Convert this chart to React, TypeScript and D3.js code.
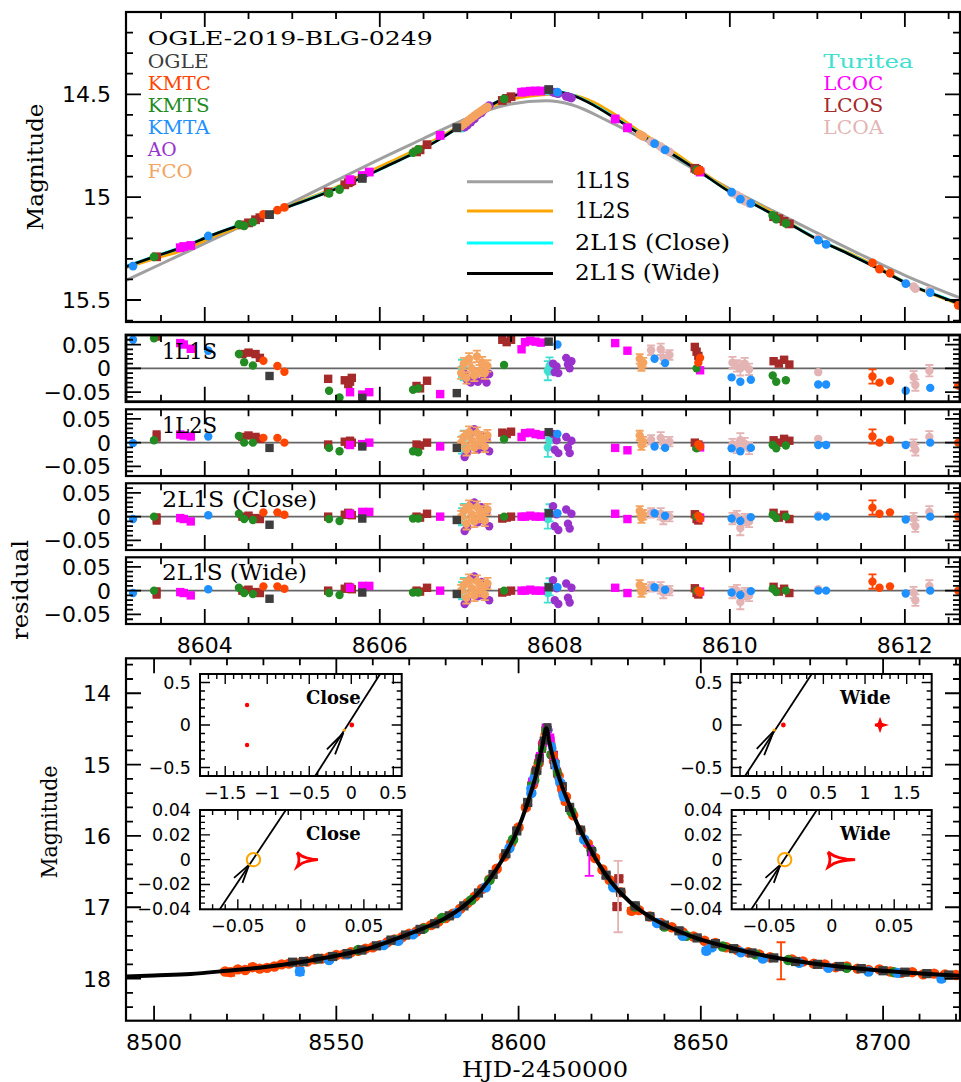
import React from "react";
import * as d3 from "d3";

// ---------------- tick labels ----------------
const topXTicks = [8604, 8606, 8608, 8610, 8612];
const topYTicks = [14.5, 15, 15.5];
const resYTicks = [-0.05, 0, 0.05];
const botXTicks = [8500, 8550, 8600, 8650, 8700];
const botYTicks = [14, 15, 16, 17, 18];
const insetCloseXTicks = [-1.5, -1, -0.5, 0, 0.5];
const insetWideXTicks = [-0.5, 0, 0.5, 1, 1.5];
const insetBigYTicks = [-0.5, 0, 0.5];
const insetSmallXTicks = [-0.05, 0, 0.05];
const insetSmallYTicks = [-0.04, -0.02, 0, 0.02, 0.04];

// ---------------- names ----------------
const eventName = "OGLE-2019-BLG-0249";
const leftLegend = ["OGLE", "KMTC", "KMTS", "KMTA", "AO", "FCO"];
const rightLegend = ["Turitea", "LCOC", "LCOS", "LCOA"];
const modelNames = ["1L1S", "1L2S", "2L1S (Close)", "2L1S (Wide)"];

// ---------------- model curves (top panel) [HJD', mag] ----------------
const model1L1S = [
  [8603.1, 15.405], [8603.5, 15.325], [8604.0, 15.225], [8604.5, 15.125], [8605.0, 15.025],
  [8605.5, 14.92], [8606.0, 14.815], [8606.5, 14.715], [8606.9, 14.635], [8607.2, 14.582],
  [8607.5, 14.547], [8607.9, 14.532], [8608.2, 14.552], [8608.6, 14.628], [8609.0, 14.715],
  [8609.5, 14.842], [8610.0, 14.96], [8610.5, 15.068], [8611.0, 15.175], [8611.5, 15.28],
  [8612.0, 15.38], [8612.63, 15.49],
];
const model1L2S = [
  [8603.1, 15.342], [8603.42, 15.3], [8603.8, 15.25], [8604.05, 15.2], [8604.45, 15.135],
  [8604.8, 15.072], [8605.1, 15.02], [8605.5, 14.952], [8605.8, 14.893], [8606.1, 14.832],
  [8606.4, 14.772], [8606.7, 14.705], [8606.9, 14.655], [8607.15, 14.588], [8607.35, 14.545],
  [8607.55, 14.52], [8607.8, 14.505], [8608.0, 14.5], [8608.2, 14.505], [8608.45, 14.54],
  [8608.7, 14.602], [8609.0, 14.69], [8609.3, 14.765], [8609.65, 14.868], [8610.0, 14.967],
  [8610.3, 15.031], [8610.6, 15.1], [8610.95, 15.195], [8611.35, 15.27], [8611.7, 15.342],
  [8612.05, 15.425], [8612.35, 15.477], [8612.63, 15.522],
];
const model2L1SClose = [
  [8603.1, 15.336], [8603.42, 15.289], [8603.8, 15.234], [8604.05, 15.19], [8604.45, 15.127],
  [8604.8, 15.07], [8605.1, 15.024], [8605.5, 14.958], [8605.8, 14.904], [8606.1, 14.845],
  [8606.4, 14.784], [8606.7, 14.714], [8606.9, 14.659], [8607.15, 14.584], [8607.35, 14.534],
  [8607.55, 14.504], [8607.8, 14.486], [8608.0, 14.486], [8608.2, 14.503], [8608.45, 14.553],
  [8608.7, 14.618], [8609.0, 14.699], [8609.3, 14.779], [8609.65, 14.874], [8610.0, 14.974],
  [8610.3, 15.039], [8610.6, 15.109], [8611.0, 15.204], [8611.35, 15.274], [8611.7, 15.347],
  [8612.05, 15.424], [8612.35, 15.474], [8612.63, 15.519],
];
const model2L1SWide = [
  [8603.1, 15.338], [8603.42, 15.29], [8603.8, 15.235], [8604.05, 15.19], [8604.45, 15.128],
  [8604.8, 15.07], [8605.1, 15.025], [8605.5, 14.96], [8605.8, 14.905], [8606.1, 14.845],
  [8606.4, 14.785], [8606.7, 14.715], [8606.9, 14.66], [8607.15, 14.585], [8607.35, 14.535],
  [8607.55, 14.505], [8607.8, 14.487], [8608.0, 14.487], [8608.2, 14.505], [8608.45, 14.555],
  [8608.7, 14.62], [8609.0, 14.7], [8609.3, 14.78], [8609.65, 14.875], [8610.0, 14.975],
  [8610.3, 15.04], [8610.6, 15.11], [8611.0, 15.205], [8611.35, 15.275], [8611.7, 15.348],
  [8612.05, 15.425], [8612.35, 15.475], [8612.63, 15.52],
];

// full-season model curve (bottom panel) [HJD', mag]
const modelFull = [
  [8492.3, 17.97], [8500, 17.955], [8510, 17.935], [8520, 17.89], [8530, 17.84], [8540, 17.77],
  [8550, 17.68], [8560, 17.56], [8567.6, 17.42], [8575, 17.27], [8580, 17.15], [8585, 16.98],
  [8590, 16.74], [8594, 16.46], [8597, 16.2], [8599, 16.0], [8601, 15.75], [8603, 15.45],
  [8604.5, 15.2], [8605.6, 14.95], [8606.6, 14.72], [8607.6, 14.49], [8608.6, 14.72],
  [8609.6, 14.93], [8610.6, 15.1], [8612.1, 15.33], [8613.6, 15.52], [8616.1, 15.83],
  [8618.6, 16.08], [8621.6, 16.36], [8625.6, 16.66], [8630.6, 16.93], [8635.6, 17.12],
  [8640.6, 17.26], [8647.6, 17.41], [8657.6, 17.56], [8667.6, 17.68], [8682.6, 17.8],
  [8697.6, 17.88], [8721.1, 17.96],
];

// ---------------- observations near peak ----------------
// [HJD', mag, res 1L1S, res 1L2S, res 2L1S close, res 2L1S wide, error]
const obsOGLE = [
  [8604.74, 15.085, -0.016, -0.011, -0.017, -0.017, 0.004],
  [8605.8, 14.909, -0.062, -0.008, -0.004, -0.004, 0.004],
  [8606.88, 14.663, -0.052, -0.011, -0.007, -0.007, 0.004],
  [8607.93, 14.477, 0.056, 0.022, 0.007, 0.007, 0.004],
];
const obsKMTC = [
  [8604.67, 15.084, 0.016, 0.01, 0.009, 0.009, 0.004],
  [8604.83, 15.063, 0.005, 0.01, 0.009, 0.009, 0.004],
  [8604.91, 15.05, -0.007, 0.0, 0.004, 0.004, 0.004],
  [8609.64, 14.874, 0.012, -0.004, 0.002, 0.0, 0.004],
  [8609.66, 14.87, 0.022, -0.008, -0.004, -0.004, 0.004],
  [8611.63, 15.32, -0.017, 0.013, 0.019, 0.019, 0.015],
  [8611.71, 15.35, -0.03, 0.0, 0.006, 0.006, 0.004],
  [8611.83, 15.37, -0.026, 0.006, 0.009, 0.009, 0.004],
  [8612.61, 15.526, -0.036, 0.0, 0.0, 0.0, 0.004],
];
const obsKMTS = [
  [8603.42, 15.29, 0.063, 0.005, 0.0, 0.0, 0.004],
  [8604.39, 15.133, 0.03, 0.014, 0.006, 0.006, 0.004],
  [8604.45, 15.14, 0.013, 0.0, -0.005, -0.005, 0.004],
  [8604.55, 15.121, 0.006, 0.0, -0.007, -0.007, 0.004],
  [8605.42, 14.982, -0.047, -0.011, -0.005, -0.005, 0.004],
  [8605.54, 14.963, -0.061, -0.018, -0.009, -0.009, 0.004],
  [8606.38, 14.784, -0.045, -0.018, -0.004, -0.004, 0.004],
  [8606.44, 14.768, -0.042, -0.02, -0.004, -0.004, 0.004],
  [8607.42, 14.522, 0.007, 0.007, 0.0, 0.0, 0.004],
  [8609.62, 14.868, 0.0, -0.012, 0.0, 0.0, 0.004],
  [8610.49, 15.089, -0.015, -0.005, 0.004, 0.004, 0.004],
  [8610.53, 15.107, -0.028, -0.012, -0.003, -0.003, 0.004],
  [8610.64, 15.128, -0.025, -0.006, 0.0, 0.0, 0.004],
];
const obsKMTA = [
  [8603.18, 15.335, 0.06, -0.001, -0.005, -0.005, 0.004],
  [8604.04, 15.189, 0.037, 0.013, 0.003, 0.003, 0.004],
  [8608.03, 14.49, 0.05, 0.018, 0.007, 0.007, 0.004],
  [8609.14, 14.74, 0.02, -0.008, 0.007, 0.007, 0.004],
  [8609.26, 14.77, 0.011, -0.011, 0.002, 0.002, 0.004],
  [8610.02, 14.976, -0.019, -0.012, -0.004, -0.004, 0.004],
  [8610.12, 15.01, -0.028, -0.018, -0.009, -0.009, 0.008],
  [8610.24, 15.03, -0.024, -0.011, -0.001, -0.001, 0.004],
  [8611.01, 15.209, -0.034, -0.005, 0.0, 0.0, 0.004],
  [8611.1, 15.23, -0.034, -0.005, 0.0, 0.0, 0.004],
  [8612.01, 15.42, -0.047, -0.005, -0.006, -0.006, 0.004],
  [8612.29, 15.464, -0.041, 0.0, 0.0, 0.0, 0.008],
];
const obsAO = [
  [8606.97, 14.66, -0.012, -0.03, -0.03, -0.028, 0.006],
  [8607.0, 14.65, -0.025, -0.02, -0.022, -0.02, 0.006],
  [8607.04, 14.635, -0.03, 0.02, 0.025, 0.025, 0.006],
  [8607.08, 14.62, -0.018, 0.028, 0.03, 0.03, 0.007],
  [8607.12, 14.6, -0.028, -0.015, -0.012, -0.012, 0.006],
  [8607.16, 14.59, -0.005, 0.015, 0.02, 0.018, 0.006],
  [8607.19, 14.575, -0.022, -0.01, -0.008, -0.01, 0.007],
  [8607.22, 14.565, -0.03, 0.008, 0.01, 0.01, 0.006],
  [8607.25, 14.555, -0.012, -0.018, -0.02, -0.02, 0.006],
  [8607.98, 14.49, 0.01, 0.018, 0.022, 0.022, 0.008],
  [8608.0, 14.492, -0.008, -0.015, -0.02, -0.02, 0.008],
  [8608.02, 14.495, 0.004, 0.005, 0.005, 0.005, 0.008],
  [8608.04, 14.497, -0.01, -0.022, -0.028, -0.028, 0.008],
  [8608.13, 14.51, 0.022, 0.012, 0.015, 0.015, 0.008],
  [8608.15, 14.512, 0.008, -0.01, -0.015, -0.015, 0.008],
  [8608.17, 14.515, 0.0, -0.022, -0.025, -0.025, 0.008],
  [8608.19, 14.518, 0.015, 0.004, 0.006, 0.006, 0.008],
];
const obsFCO = [
  [8606.93, 14.655, -0.01, 0.0, 0.0, 0.0, 0.012],
  [8606.96, 14.645, 0.01, 0.012, 0.012, 0.012, 0.012],
  [8606.99, 14.635, -0.02, -0.015, -0.015, -0.015, 0.012],
  [8607.02, 14.625, 0.02, 0.022, 0.022, 0.022, 0.012],
  [8607.05, 14.615, 0.0, 0.005, 0.005, 0.005, 0.012],
  [8607.08, 14.605, -0.015, -0.01, -0.01, -0.01, 0.012],
  [8607.11, 14.595, 0.025, 0.02, 0.02, 0.02, 0.012],
  [8607.14, 14.587, -0.005, 0.0, 0.0, 0.0, 0.012],
  [8607.17, 14.578, 0.012, 0.01, 0.01, 0.01, 0.012],
  [8607.2, 14.57, -0.01, -0.008, -0.008, -0.008, 0.012],
  [8607.23, 14.562, 0.005, 0.015, 0.015, 0.015, 0.012],
  [8608.97, 14.695, 0.02, 0.015, 0.012, 0.012, 0.01],
  [8608.99, 14.7, 0.005, -0.005, -0.003, -0.003, 0.01],
  [8609.01, 14.705, 0.012, 0.002, 0.004, 0.004, 0.01],
];
const obsTuritea = [
  [8606.94, 14.665, 0.0, -0.005, 0.0, 0.0, 0.018],
  [8606.96, 14.66, -0.01, 0.01, 0.012, 0.012, 0.015],
  [8607.92, 14.485, -0.005, -0.01, -0.005, -0.005, 0.02],
  [8607.94, 14.483, 0.005, 0.005, 0.008, 0.008, 0.018],
];
const obsLCOC = [
  [8603.72, 15.246, 0.053, 0.017, -0.003, -0.003, 0.005],
  [8603.76, 15.24, 0.05, 0.015, -0.005, -0.005, 0.005],
  [8603.84, 15.235, 0.041, 0.013, -0.01, -0.01, 0.005],
  [8605.66, 14.915, -0.05, -0.005, 0.006, 0.006, 0.005],
  [8605.8, 14.895, -0.055, -0.003, 0.01, 0.01, 0.005],
  [8605.88, 14.878, -0.05, 0.0, 0.01, 0.01, 0.005],
  [8606.69, 14.7, -0.054, -0.008, 0.0, 0.0, 0.005],
  [8607.62, 14.49, 0.04, 0.012, 0.0, 0.0, 0.004],
  [8607.66, 14.488, 0.055, 0.02, 0.0, 0.0, 0.004],
  [8607.72, 14.485, 0.058, 0.021, 0.002, 0.002, 0.004],
  [8607.78, 14.484, 0.056, 0.018, 0.0, 0.0, 0.004],
  [8607.84, 14.484, 0.054, 0.016, 0.0, 0.0, 0.004],
  [8608.69, 14.62, 0.053, -0.011, 0.006, 0.006, 0.004],
  [8608.83, 14.663, 0.037, -0.016, -0.005, -0.005, 0.004],
  [8609.66, 14.878, -0.004, -0.01, -0.002, -0.002, 0.004],
];
const obsLCOS = [
  [8603.45, 15.29, 0.07, 0.014, -0.005, -0.005, 0.01],
  [8604.43, 15.135, 0.03, 0.012, 0.0, 0.0, 0.005],
  [8604.5, 15.125, 0.033, 0.015, 0.002, 0.002, 0.005],
  [8604.58, 15.11, 0.03, 0.012, -0.003, -0.003, 0.005],
  [8604.63, 15.1, 0.022, 0.008, -0.005, -0.005, 0.005],
  [8605.41, 14.975, -0.022, -0.004, 0.0, 0.0, 0.005],
  [8605.6, 14.94, -0.025, 0.002, 0.004, 0.004, 0.006],
  [8605.64, 14.93, -0.033, -0.003, 0.008, 0.008, 0.006],
  [8605.66, 14.925, -0.028, 0.004, 0.006, 0.006, 0.006],
  [8605.68, 14.92, -0.02, 0.0, 0.003, 0.003, 0.006],
  [8606.42, 14.78, -0.037, -0.004, 0.0, 0.0, 0.005],
  [8606.46, 14.77, -0.042, -0.006, -0.002, -0.002, 0.005],
  [8606.54, 14.745, -0.026, 0.0, 0.006, 0.006, 0.005],
  [8607.4, 14.53, 0.06, 0.021, -0.004, -0.004, 0.005],
  [8607.45, 14.52, 0.055, 0.018, -0.002, -0.002, 0.005],
  [8607.5, 14.512, 0.06, 0.023, 0.0, 0.0, 0.005],
  [8609.6, 14.86, 0.045, 0.0, 0.005, 0.005, 0.006],
  [8609.62, 14.865, 0.035, -0.008, -0.005, -0.005, 0.006],
  [8609.64, 14.87, 0.026, -0.004, -0.008, -0.008, 0.006],
  [8610.5, 15.095, 0.015, 0.005, 0.008, 0.008, 0.006],
  [8610.56, 15.105, 0.01, 0.0, -0.002, -0.002, 0.006],
  [8610.62, 15.118, 0.018, 0.008, 0.004, 0.004, 0.006],
  [8610.68, 15.13, 0.008, 0.004, -0.005, -0.005, 0.006],
];
const obsLCOA = [
  [8609.1, 14.73, 0.038, 0.006, 0.008, 0.008, 0.01],
  [8609.21, 14.755, 0.04, 0.01, 0.006, 0.006, 0.012],
  [8609.24, 14.765, 0.022, 0.0, -0.004, -0.004, 0.012],
  [8609.31, 14.78, 0.028, 0.002, 0.0, 0.0, 0.01],
  [8610.03, 14.98, 0.012, -0.004, -0.004, -0.004, 0.012],
  [8610.08, 14.99, 0.005, -0.01, 0.0, 0.0, 0.012],
  [8610.12, 15.0, 0.0, 0.005, -0.024, -0.024, 0.015],
  [8610.17, 15.02, 0.01, -0.002, -0.006, -0.006, 0.012],
  [8610.22, 15.03, -0.002, -0.012, -0.01, -0.01, 0.012],
  [8611.01, 15.2, -0.008, 0.008, 0.003, 0.003, 0.008],
  [8612.1, 15.435, -0.018, -0.005, -0.004, -0.004, 0.012],
  [8612.12, 15.445, -0.035, -0.015, -0.02, -0.02, 0.012],
  [8612.28, 15.455, -0.005, 0.012, 0.01, 0.01, 0.012],
];

// ---------------- full-season observations (bottom panel) [HJD', mag, error] ----------------
const seasonKMTC = [
  [8519.5, 17.9, 0.03], [8521, 17.91, 0.05], [8523, 17.87, 0.03], [8525, 17.88, 0.03], [8527, 17.84, 0.04],
  [8529, 17.86, 0.03], [8531, 17.85, 0.03], [8533, 17.83, 0.03], [8535, 17.8, 0.03], [8537, 17.79, 0.04],
  [8540, 17.78, 0.03], [8542, 17.76, 0.03], [8544, 17.73, 0.03], [8546, 17.72, 0.03], [8548, 17.7, 0.03],
  [8550, 17.67, 0.03], [8552, 17.66, 0.03], [8554, 17.63, 0.03], [8556, 17.61, 0.03], [8558, 17.58, 0.03],
  [8560, 17.56, 0.03], [8562, 17.53, 0.03], [8564, 17.49, 0.03], [8566, 17.45, 0.03], [8568, 17.42, 0.03],
  [8570, 17.37, 0.03], [8572, 17.34, 0.03], [8574, 17.29, 0.03], [8576, 17.25, 0.03], [8578, 17.2, 0.03],
  [8580, 17.15, 0.03], [8582, 17.09, 0.03], [8584, 17.02, 0.03], [8586, 16.94, 0.03], [8588, 16.85, 0.03],
  [8590, 16.74, 0.03], [8592, 16.61, 0.03], [8594, 16.46, 0.03], [8596, 16.29, 0.03], [8598, 16.1, 0.03],
  [8600, 15.88, 0.03], [8602, 15.6, 0.03], [8604, 15.28, 0.02], [8605.5, 14.98, 0.02], [8606.7, 14.7, 0.02],
  [8609.7, 14.95, 0.02], [8611, 15.16, 0.02], [8613, 15.45, 0.02], [8615, 15.71, 0.02], [8617, 15.92, 0.02],
  [8619, 16.11, 0.03], [8621, 16.31, 0.03], [8623, 16.47, 0.03], [8625, 16.62, 0.03], [8628, 16.79, 0.03],
  [8631, 17.05, 0.04], [8633, 17.04, 0.03], [8636, 17.13, 0.03], [8639, 17.22, 0.03], [8642, 17.28, 0.03],
  [8645, 17.35, 0.03], [8648, 17.41, 0.03], [8651, 17.47, 0.03], [8654, 17.5, 0.03], [8657, 17.56, 0.03],
  [8660, 17.6, 0.03], [8663, 17.63, 0.03], [8666, 17.66, 0.03], [8669, 17.7, 0.03], [8672, 17.75, 0.26],
  [8675, 17.73, 0.03], [8678, 17.76, 0.03], [8681, 17.79, 0.03], [8684, 17.8, 0.03], [8687, 17.84, 0.03],
  [8690, 17.83, 0.04], [8693, 17.86, 0.03], [8696, 17.88, 0.03], [8699, 17.87, 0.03], [8702, 17.9, 0.03],
  [8705, 17.92, 0.04], [8708, 17.91, 0.03], [8711, 17.94, 0.03], [8714, 17.93, 0.03], [8717, 17.94, 0.03],
  [8720, 17.95, 0.03],
];
const seasonOGLE = [
  [8538, 17.77, 0.03], [8541, 17.76, 0.03], [8545, 17.72, 0.03], [8549, 17.69, 0.03], [8553, 17.65, 0.03],
  [8557, 17.6, 0.03], [8561, 17.54, 0.03], [8565, 17.46, 0.03], [8569, 17.39, 0.03], [8573, 17.31, 0.03],
  [8577, 17.23, 0.03], [8581, 17.12, 0.03], [8585, 16.98, 0.03], [8589, 16.8, 0.03], [8593, 16.54, 0.03],
  [8596.5, 16.25, 0.03], [8599.5, 15.93, 0.03], [8602.5, 15.53, 0.03], [8605, 15.08, 0.02], [8607.6, 14.49, 0.02],
  [8610, 15.0, 0.02], [8612, 15.31, 0.02], [8614, 15.6, 0.02], [8617, 15.92, 0.03], [8620, 16.22, 0.03],
  [8624, 16.55, 0.03], [8628, 16.79, 0.03], [8632, 16.98, 0.03], [8636, 17.13, 0.03], [8640, 17.25, 0.03],
  [8644, 17.33, 0.03], [8649, 17.43, 0.03], [8654, 17.51, 0.03], [8659, 17.58, 0.03], [8664, 17.64, 0.03],
  [8670, 17.71, 0.03], [8676, 17.76, 0.03], [8682, 17.8, 0.03], [8688, 17.83, 0.03], [8694, 17.86, 0.03],
  [8700, 17.89, 0.03], [8706, 17.91, 0.03], [8712, 17.93, 0.03], [8718, 17.95, 0.03],
];
const seasonKMTA = [
  [8540, 17.9, 0.05], [8548, 17.74, 0.03], [8553, 17.66, 0.03], [8563, 17.53, 0.03], [8567, 17.47, 0.03],
  [8571, 17.38, 0.03], [8583, 17.08, 0.03], [8591, 16.72, 0.03], [8597.5, 16.17, 0.03], [8603.5, 15.4, 0.03],
  [8611.5, 15.26, 0.03], [8618, 16.05, 0.03], [8626, 16.72, 0.03], [8638, 17.22, 0.03], [8645, 17.4, 0.03],
  [8651.5, 17.61, 0.04], [8653, 17.56, 0.04], [8661, 17.63, 0.03], [8667, 17.72, 0.03], [8677, 17.78, 0.03],
  [8685, 17.85, 0.03], [8696, 17.9, 0.03], [8704, 17.92, 0.03], [8716, 18.0, 0.04],
];
const seasonKMTS = [
  [8545, 17.72, 0.03], [8556, 17.6, 0.03], [8566, 17.46, 0.03], [8574, 17.3, 0.03], [8579, 17.15, 0.03],
  [8587, 16.9, 0.03], [8592, 16.62, 0.03], [8598.5, 16.05, 0.03], [8604.3, 15.22, 0.03], [8609, 14.86, 0.03],
  [8614.5, 15.66, 0.03], [8620, 16.2, 0.03], [8626, 16.7, 0.03], [8632, 16.99, 0.03], [8640, 17.27, 0.03],
  [8646, 17.4, 0.03], [8656, 17.55, 0.03], [8665, 17.66, 0.03], [8674, 17.74, 0.03], [8690, 17.85, 0.03],
  [8703, 17.91, 0.03],
];
const seasonLCOC = [[8619.4, 16.35, 0.21]];
const seasonLCOS = [[8627.5, 16.6, 0.03], [8627.0, 16.99, 0.03]];
const seasonLCOA = [[8627.3, 16.85, 0.5]];

// ---------------- inset geometry (source plane, units of theta_E) ----------------
const trajCloseBig = [[-0.43, -0.6], [0.343, 0.6]];
const arrowCloseBig = [[-0.29, -0.286], [-0.094, -0.094], [-0.193, -0.345]];
const sourceCloseBig = [-0.083, -0.06];
const causticCloseCentral = [0.006, 0];
const causticClosePlanetary = [[-1.24, 0.235], [-1.24, -0.235]];

const trajWideBig = [[-0.44, -0.6], [0.36, 0.6]];
const arrowWideBig = [[-0.3, -0.28], [-0.093, -0.07], [-0.21, -0.355]];
const sourceWideBig = [-0.09, -0.059];
const causticWideCentralDot = [0.02, 0];
const causticWidePlanetary = [
  [1.12, 0], [1.165, 0.014], [1.18, 0.055], [1.195, 0.014], [1.24, 0],
  [1.195, -0.014], [1.18, -0.055], [1.165, -0.014], [1.12, 0],
];

const trajSmall = [[-0.0643, -0.04], [-0.0119, 0.04]];
const arrowSmall = [[-0.053, -0.0147], [-0.041, -0.004], [-0.0463, -0.0187]];
const sourceSmall = [-0.0376, 0];
const sourceRadius = 0.0053;
const causticCloseSmall = [
  [-0.003, 0.0058], [0.001, 0.0028], [0.0045, 0.0015], [0.009, 0.0005], [0.0135, 0],
  [0.009, -0.0005], [0.0045, -0.0015], [0.001, -0.0028], [-0.003, -0.0058],
  [-0.0018, -0.003], [-0.0015, 0], [-0.0018, 0.003], [-0.003, 0.0058],
];
const causticWideSmall = [
  [-0.003, 0.0062], [0.002, 0.003], [0.006, 0.0016], [0.012, 0.0005], [0.0187, 0],
  [0.012, -0.0005], [0.006, -0.0016], [0.002, -0.003], [-0.003, -0.0062],
  [-0.0018, -0.003], [-0.0014, 0], [-0.0018, 0.003], [-0.003, 0.0062],
];

// ---------------- styles ----------------
const SANS = "'DejaVu Sans', Arial, sans-serif";
const SERIF = "'DejaVu Serif', 'Liberation Serif', serif";
const teleStyle: Record<string, { color: string; shape: string; w: number }> = {
  OGLE: { color: "#3d3d3d", shape: "square", w: 61 },
  KMTC: { color: "#ff4500", shape: "circle", w: 63 },
  KMTS: { color: "#228b22", shape: "circle", w: 62 },
  KMTA: { color: "#1e90ff", shape: "circle", w: 62 },
  AO: { color: "#9932cc", shape: "circle", w: 29 },
  FCO: { color: "#f4a460", shape: "circle", w: 45 },
  Turitea: { color: "#40e0d0", shape: "circle", w: 90 },
  LCOC: { color: "#ff00ff", shape: "square", w: 60 },
  LCOS: { color: "#a52a2a", shape: "square", w: 60 },
  LCOA: { color: "#e4b4b4", shape: "circle", w: 60 },
};
const modelStyle = [
  { color: "#a0a0a0", width: 3 },
  { color: "#ffa500", width: 3 },
  { color: "#00ffff", width: 3 },
  { color: "#000000", width: 2.6 },
];

const peakData: [string, number[][]][] = [
  ["LCOA", obsLCOA], ["Turitea", obsTuritea], ["AO", obsAO], ["FCO", obsFCO], ["LCOS", obsLCOS],
  ["LCOC", obsLCOC], ["KMTS", obsKMTS], ["KMTC", obsKMTC], ["KMTA", obsKMTA], ["OGLE", obsOGLE],
];
const seasonData: [string, number[][]][] = [
  ["KMTC", seasonKMTC], ["KMTS", seasonKMTS], ["KMTA", seasonKMTA], ["OGLE", seasonOGLE],
  ["LCOC", seasonLCOC], ["LCOS", seasonLCOS], ["LCOA", seasonLCOA],
];

const fmt = d3.format("~g");

function rangeIn(a: number, b: number, step: number) {
  return d3.range(Math.round(a / step), Math.round(b / step) + 1).map((k) => +(k * step).toFixed(6));
}

function Frame({ xs, ys, xMaj, xMin, yMaj, yMin, maj, min, sw, fw }: any) {
  const [x0, x1] = xs.range();
  const yr = ys.range();
  const yT = Math.min(yr[0], yr[1]);
  const yB = Math.max(yr[0], yr[1]);
  const [dx0, dx1] = xs.domain();
  const yd = ys.domain();
  const inX = (v: number) => v > Math.min(dx0, dx1) + 1e-9 && v < Math.max(dx0, dx1) - 1e-9;
  const inY = (v: number) => v > Math.min(yd[0], yd[1]) + 1e-9 && v < Math.max(yd[0], yd[1]) - 1e-9;
  let d = "";
  xMaj.filter(inX).forEach((v: number) => { const p = xs(v); d += `M${p},${yB}V${yB - maj}M${p},${yT}V${yT + maj}`; });
  xMin.filter(inX).forEach((v: number) => { const p = xs(v); d += `M${p},${yB}V${yB - min}M${p},${yT}V${yT + min}`; });
  yMaj.filter(inY).forEach((v: number) => { const p = ys(v); d += `M${x0},${p}H${x0 + maj}M${x1},${p}H${x1 - maj}`; });
  yMin.filter(inY).forEach((v: number) => { const p = ys(v); d += `M${x0},${p}H${x0 + min}M${x1},${p}H${x1 - min}`; });
  return (
    <g>
      <path d={d} stroke="#000" strokeWidth={sw} fill="none" />
      <rect x={x0} y={yT} width={x1 - x0} height={yB - yT} fill="none" stroke="#000" strokeWidth={fw} />
    </g>
  );
}

function Mark({ shape, cx, cy, r, color }: any) {
  if (shape === "square") return <rect x={cx - r} y={cy - r} width={2 * r} height={2 * r} fill={color} />;
  return <circle cx={cx} cy={cy} r={r} fill={color} />;
}

function ErrBar({ cx, y1, y2, color, cap }: any) {
  return (
    <path
      d={`M${cx},${y1}V${y2}M${cx - cap},${y1}H${cx + cap}M${cx - cap},${y2}H${cx + cap}`}
      stroke={color}
      strokeWidth={1.8}
      fill="none"
    />
  );
}

function Inset({ xs, ys, xTicks, yTicks, xMin, yMin, label, children, clipId }: any) {
  const [x0, x1] = xs.range();
  const [yB, yT] = ys.range();
  return (
    <g>
      <rect x={x0} y={yT} width={x1 - x0} height={yB - yT} fill="#fff" />
      <clipPath id={clipId}>
        <rect x={x0} y={yT} width={x1 - x0} height={yB - yT} />
      </clipPath>
      <g clipPath={`url(#${clipId})`}>{children}</g>
      <Frame xs={xs} ys={ys} xMaj={xTicks} xMin={xMin} yMaj={yTicks} yMin={yMin} maj={10} min={5} sw={1.4} fw={2} />
      {xTicks.map((v: number, i: number) => (
        <text key={"x" + i} x={xs(v)} y={yB + 23} fontFamily={SANS} fontSize={17.5} textAnchor="middle">{fmt(v)}</text>
      ))}
      {yTicks.map((v: number, i: number) => (
        <text key={"y" + i} x={x0 - 9} y={ys(v) + 6} fontFamily={SANS} fontSize={17.5} textAnchor="end">{fmt(v)}</text>
      ))}
      <text x={x1 - 41} y={yT + 30} fontFamily={SERIF} fontWeight="bold" fontSize={18} textAnchor="end">{label}</text>
    </g>
  );
}

export default function App() {
  const xTop = d3.scaleLinear().domain([8603.1, 8612.63]).range([126, 960]);
  const yTop = d3.scaleLinear().domain([14.1, 15.607]).range([12, 322]);
  const resBoxes = [[335, 401.7], [409.3, 476], [483.3, 550], [557.3, 624]];
  const yRes = resBoxes.map(([t, b]) => d3.scaleLinear().domain([-0.07, 0.07]).range([b, t]));
  const xBot = d3.scaleLinear().domain([8492.3, 8721.1]).range([126, 960]);
  const yBot = d3.scaleLinear().domain([13.51, 18.59]).range([658.3, 1020.7]);

  const topXMin = rangeIn(8603.5, 8612.5, 0.5);
  const topYMin = rangeIn(14.2, 15.6, 0.1);
  const resYMin = rangeIn(-0.06, 0.06, 0.01);
  const botXMin = rangeIn(8500, 8720, 10);
  const botYMin = rangeIn(13.6, 18.4, 0.2);

  const lineTop = d3.line<number[]>().x((d) => xTop(d[0])).y((d) => yTop(d[1])).curve(d3.curveMonotoneX);
  const lineBot = d3.line<number[]>().x((d) => xBot(d[0])).y((d) => yBot(d[1])).curve(d3.curveMonotoneX);
  const topModels = [model1L1S, model1L2S, model2L1SClose, model2L1SWide];

  // insets
  const xCloseBig = d3.scaleLinear().domain([-1.8, 0.6]).range([200, 401.7]);
  const xWideBig = d3.scaleLinear().domain([-0.6, 1.8]).range([731.7, 931.7]);
  const yBig = d3.scaleLinear().domain([-0.6, 0.6]).range([776, 674]);
  const xCloseSmall = d3.scaleLinear().domain([-0.08, 0.08]).range([200, 401.7]);
  const xWideSmall = d3.scaleLinear().domain([-0.08, 0.08]).range([731.7, 931.7]);
  const ySmall = d3.scaleLinear().domain([-0.04, 0.04]).range([909.3, 810]);
  const bigXMinClose = rangeIn(-1.8, 0.6, 0.1);
  const bigXMinWide = rangeIn(-0.6, 1.8, 0.1);
  const bigYMin = rangeIn(-0.6, 0.6, 0.1);
  const smallXMin = rangeIn(-0.08, 0.08, 0.01);
  const smallYMin = rangeIn(-0.04, 0.04, 0.005);

  const trajContent = (xs: any, ys: any, traj: number[][], arrow: number[][]) => (
    <g stroke="#000" strokeWidth={1.8} fill="none">
      <line x1={xs(traj[0][0])} y1={ys(traj[0][1])} x2={xs(traj[1][0])} y2={ys(traj[1][1])} />
      <path d={`M${xs(arrow[0][0])},${ys(arrow[0][1])}L${xs(arrow[1][0])},${ys(arrow[1][1])}L${xs(arrow[2][0])},${ys(arrow[2][1])}`} />
    </g>
  );
  const causticPath = (xs: any, ys: any, pts: number[][]) =>
    d3.line<number[]>().x((d) => xs(d[0])).y((d) => ys(d[1]))(pts) || "";

  const renderPeak = (ys: any, col: number, clip: string, markR: number) => (
    <g clipPath={`url(#${clip})`}>
      {peakData.map(([name, rows]) => {
        const st = teleStyle[name];
        return (
          <g key={name}>
            {rows.map((o, i) => {
              const cx = xTop(o[0]);
              const v = o[col];
              const cy = ys(v);
              const e = o[6];
              const y1 = col === 1 ? yTop(v - e) : ys(v + e);
              const y2 = col === 1 ? yTop(v + e) : ys(v - e);
              return (
                <g key={i}>
                  {Math.abs(y2 - y1) > 2 * markR ? <ErrBar cx={cx} y1={y1} y2={y2} color={st.color} cap={4} /> : null}
                  <Mark shape={st.shape} cx={cx} cy={cy} r={markR} color={st.color} />
                </g>
              );
            })}
          </g>
        );
      })}
    </g>
  );

  const legendY = [45, 68, 90, 112, 134, 156, 178];
  const modelLegendY = [188.3, 217.5, 249.5, 280];
  const modelLegendW = [55, 55, 155, 145];
  const resLabelY = [359.3, 433.3, 506.7, 580];
  const LEG_FS = 19;

  return (
    <svg width={961} height={1082} style={{ position: "absolute", left: 0, top: 0, background: "#fff" }}>
      <defs>
        <clipPath id="clipTop"><rect x={126} y={12} width={834} height={310} /></clipPath>
        {resBoxes.map(([t, b], i) => (
          <clipPath key={i} id={"clipRes" + i}><rect x={126} y={t} width={834} height={b - t} /></clipPath>
        ))}
        <clipPath id="clipBot"><rect x={126} y={658.3} width={834} height={362.4} /></clipPath>
      </defs>
      <rect x={0} y={0} width={961} height={1082} fill="#fff" />

      {/* ---------- top panel ---------- */}
      <g clipPath="url(#clipTop)">
        {topModels.map((m, i) => (
          <path key={i} d={lineTop(m) || ""} fill="none" stroke={modelStyle[i].color} strokeWidth={modelStyle[i].width} />
        ))}
      </g>
      {renderPeak(yTop, 1, "clipTop", 4.4)}
      <Frame xs={xTop} ys={yTop} xMaj={topXTicks} xMin={topXMin} yMaj={topYTicks} yMin={topYMin} maj={15} min={7} sw={1.8} fw={2.2} />
      {topYTicks.map((v, i) => (
        <text key={i} x={111} y={yTop(v) + 8} fontFamily={SANS} fontSize={22} textAnchor="end">{fmt(v)}</text>
      ))}
      <text transform="translate(43,167) rotate(-90)" fontFamily={SERIF} fontSize={23} textAnchor="middle" textLength={127} lengthAdjust="spacingAndGlyphs">Magnitude</text>

      <text x={147.7} y={legendY[0]} fontFamily={SERIF} fontSize={LEG_FS} textLength={285} lengthAdjust="spacingAndGlyphs">{eventName}</text>
      {leftLegend.map((n, i) => (
        <text key={n} x={147.7} y={legendY[i + 1]} fontFamily={SERIF} fontSize={LEG_FS} fill={teleStyle[n].color} textLength={teleStyle[n].w} lengthAdjust="spacingAndGlyphs">{n}</text>
      ))}
      {rightLegend.map((n, i) => (
        <text key={n} x={823.3} y={legendY[i + 1]} fontFamily={SERIF} fontSize={LEG_FS} fill={teleStyle[n].color} textLength={teleStyle[n].w} lengthAdjust="spacingAndGlyphs">{n}</text>
      ))}
      {modelNames.map((n, i) => (
        <g key={n}>
          <line x1={467} x2={553} y1={modelLegendY[i] - 6.5} y2={modelLegendY[i] - 6.5} stroke={modelStyle[i].color} strokeWidth={3} />
          <text x={575} y={modelLegendY[i]} fontFamily={SERIF} fontSize={23} textLength={modelLegendW[i]} lengthAdjust="spacingAndGlyphs">{n}</text>
        </g>
      ))}

      {/* ---------- residual panels ---------- */}
      {yRes.map((ys, k) => (
        <g key={k}>
          <line x1={126} x2={960} y1={ys(0)} y2={ys(0)} stroke="#666" strokeWidth={1.6} />
          {renderPeak(ys, 2 + k, "clipRes" + k, 4.2)}
          <Frame xs={xTop} ys={ys} xMaj={topXTicks} xMin={topXMin} yMaj={resYTicks} yMin={resYMin} maj={15} min={7} sw={1.8} fw={k === 0 ? 2.8 : 2.2} />
          {resYTicks.map((v, i) => (
            <text key={i} x={111} y={ys(v) + 8} fontFamily={SANS} fontSize={22} textAnchor="end">{fmt(v)}</text>
          ))}
          <text x={162} y={resLabelY[k]} fontFamily={SERIF} fontSize={23} textLength={modelLegendW[k]} lengthAdjust="spacingAndGlyphs">{modelNames[k]}</text>
        </g>
      ))}
      {topXTicks.map((v, i) => (
        <text key={i} x={xTop(v)} y={653} fontFamily={SANS} fontSize={22} textAnchor="middle">{fmt(v)}</text>
      ))}
      <text transform="translate(28,590) rotate(-90)" fontFamily={SERIF} fontSize={23} textAnchor="middle" textLength={100} lengthAdjust="spacingAndGlyphs">residual</text>

      {/* ---------- bottom panel ---------- */}
      <g clipPath="url(#clipBot)">
        {seasonData.map(([name, rows]) => {
          const st = teleStyle[name];
          return (
            <g key={name}>
              {rows.map((o, i) => {
                const cx = xBot(o[0]);
                const y1 = yBot(o[1] - o[2]);
                const y2 = yBot(o[1] + o[2]);
                return (
                  <g key={i}>
                    <ErrBar cx={cx} y1={y1} y2={y2} color={st.color} cap={4.5} />
                    {o[2] < 0.1 ? <Mark shape={st.shape} cx={cx} cy={yBot(o[1])} r={st.shape === "square" ? 4.6 : 5.2} color={st.color} /> : null}
                  </g>
                );
              })}
            </g>
          );
        })}
        {peakData.map(([name, rows]) => (
          <g key={name}>
            {rows.map((o, i) => (
              <Mark key={i} shape={teleStyle[name].shape} cx={xBot(o[0])} cy={yBot(o[1])} r={4} color={teleStyle[name].color} />
            ))}
          </g>
        ))}
        <path d={lineBot(modelFull) || ""} fill="none" stroke="#000" strokeWidth={4} />
      </g>
      <Frame xs={xBot} ys={yBot} xMaj={botXTicks} xMin={botXMin} yMaj={botYTicks} yMin={botYMin} maj={15} min={7} sw={1.8} fw={2.2} />
      {botXTicks.map((v, i) => (
        <text key={i} x={xBot(v)} y={1050} fontFamily={SANS} fontSize={22} textAnchor="middle">{fmt(v)}</text>
      ))}
      {botYTicks.map((v, i) => (
        <text key={i} x={111} y={yBot(v) + 8} fontFamily={SANS} fontSize={22} textAnchor="end">{fmt(v)}</text>
      ))}
      <text transform="translate(57,822) rotate(-90)" fontFamily={SERIF} fontSize={23} textAnchor="middle" textLength={113} lengthAdjust="spacingAndGlyphs">Magnitude</text>
      <text x={545} y={1077} fontFamily={SERIF} fontSize={22} textAnchor="middle" textLength={166} lengthAdjust="spacingAndGlyphs">HJD-2450000</text>

      {/* ---------- insets ---------- */}
      <Inset xs={xCloseBig} ys={yBig} xTicks={insetCloseXTicks} yTicks={insetBigYTicks} xMin={bigXMinClose} yMin={bigYMin} label="Close" clipId="ic1">
        {trajContent(xCloseBig, yBig, trajCloseBig, arrowCloseBig)}
        {causticClosePlanetary.map((p, i) => (
          <circle key={i} cx={xCloseBig(p[0])} cy={yBig(p[1])} r={2.2} fill="#ff0000" />
        ))}
        <circle cx={xCloseBig(causticCloseCentral[0])} cy={yBig(causticCloseCentral[1])} r={2.4} fill="#ff0000" />
        <circle cx={xCloseBig(sourceCloseBig[0])} cy={yBig(sourceCloseBig[1])} r={1.6} fill="#ffa500" />
      </Inset>
      <Inset xs={xCloseSmall} ys={ySmall} xTicks={insetSmallXTicks} yTicks={insetSmallYTicks} xMin={smallXMin} yMin={smallYMin} label="Close" clipId="ic2">
        {trajContent(xCloseSmall, ySmall, trajSmall, arrowSmall)}
        <path d={causticPath(xCloseSmall, ySmall, causticCloseSmall)} fill="none" stroke="#ff0000" strokeWidth={2.8} />
        <circle cx={xCloseSmall(sourceSmall[0])} cy={ySmall(sourceSmall[1])} r={xCloseSmall(sourceRadius) - xCloseSmall(0)} fill="none" stroke="#ffa500" strokeWidth={2} />
      </Inset>
      <Inset xs={xWideBig} ys={yBig} xTicks={insetWideXTicks} yTicks={insetBigYTicks} xMin={bigXMinWide} yMin={bigYMin} label="Wide" clipId="iw1">
        {trajContent(xWideBig, yBig, trajWideBig, arrowWideBig)}
        <path d={causticPath(xWideBig, yBig, causticWidePlanetary)} fill="#ff0000" stroke="#ff0000" strokeWidth={2.4} />
        <circle cx={xWideBig(causticWideCentralDot[0])} cy={yBig(causticWideCentralDot[1])} r={2.4} fill="#ff0000" />
        <circle cx={xWideBig(sourceWideBig[0])} cy={yBig(sourceWideBig[1])} r={1.6} fill="#ffa500" />
      </Inset>
      <Inset xs={xWideSmall} ys={ySmall} xTicks={insetSmallXTicks} yTicks={insetSmallYTicks} xMin={smallXMin} yMin={smallYMin} label="Wide" clipId="iw2">
        {trajContent(xWideSmall, ySmall, trajSmall, arrowSmall)}
        <path d={causticPath(xWideSmall, ySmall, causticWideSmall)} fill="none" stroke="#ff0000" strokeWidth={2.8} />
        <circle cx={xWideSmall(sourceSmall[0])} cy={ySmall(sourceSmall[1])} r={xWideSmall(sourceRadius) - xWideSmall(0)} fill="none" stroke="#ffa500" strokeWidth={2} />
      </Inset>
    </svg>
  );
}
